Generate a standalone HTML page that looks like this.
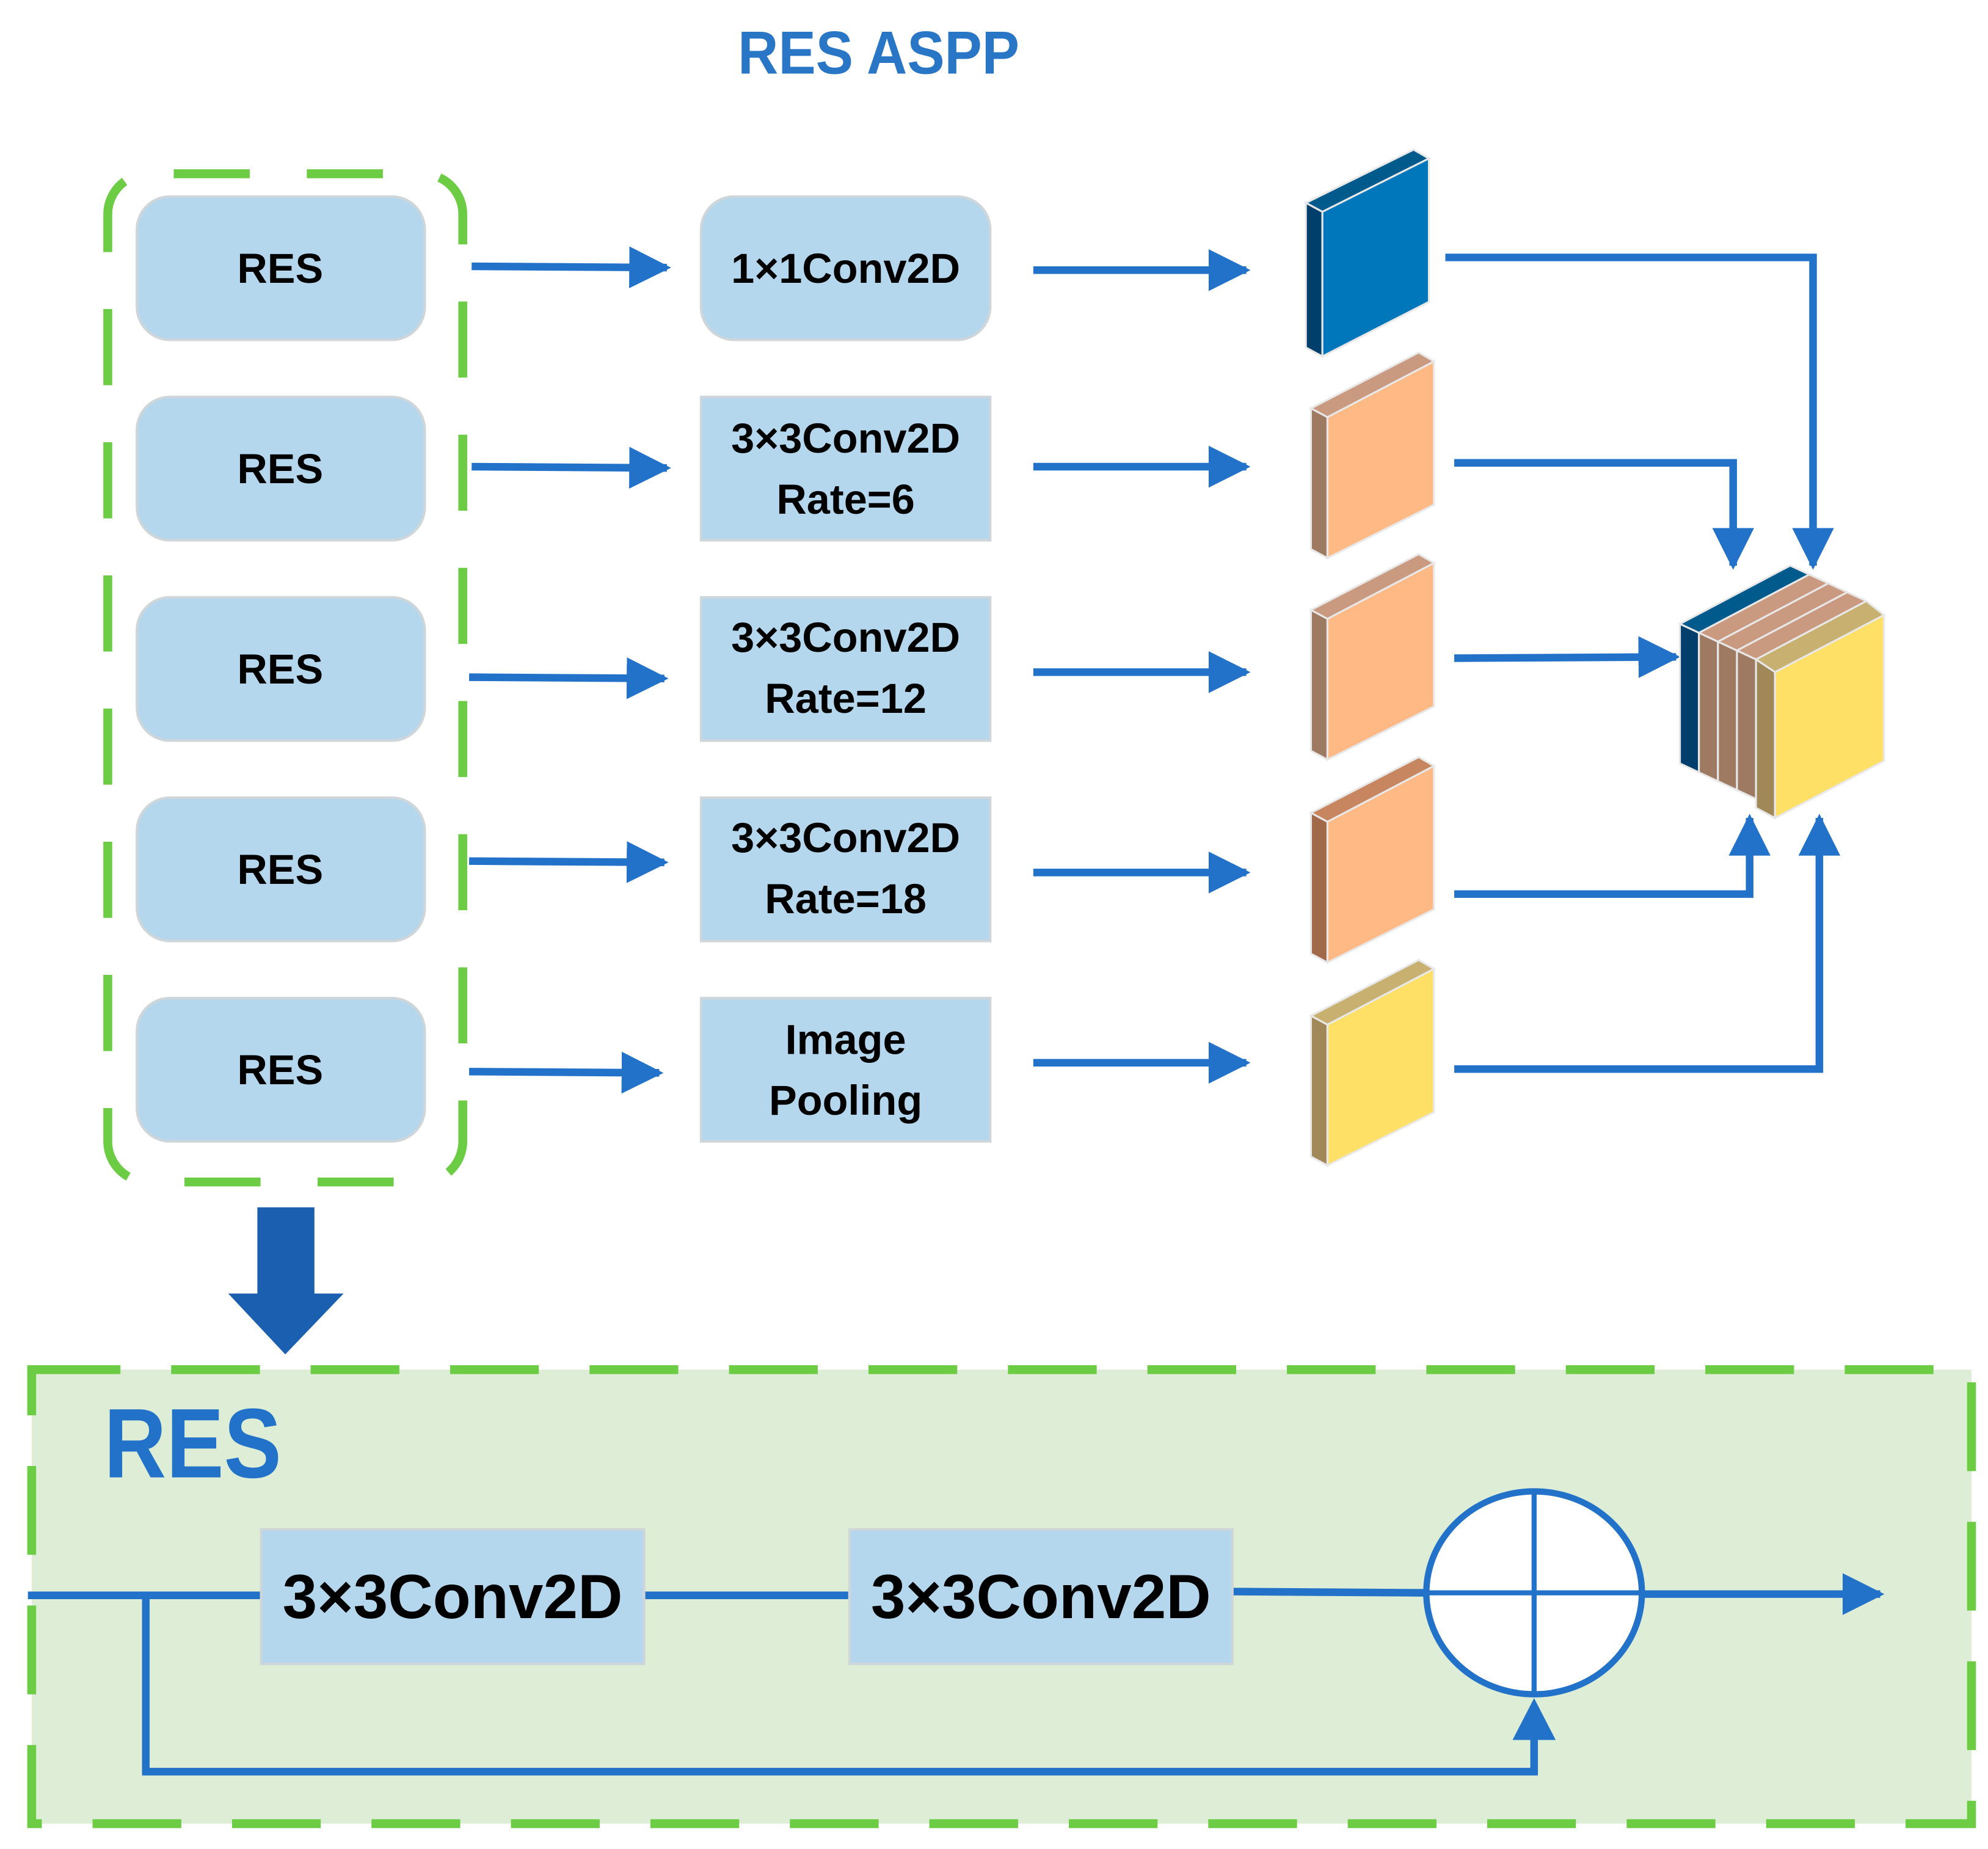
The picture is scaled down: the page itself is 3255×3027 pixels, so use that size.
<!DOCTYPE html>
<html><head><meta charset="utf-8"><style>
html,body{margin:0;padding:0;background:#fff;}
svg{display:block;}
text{font-family:"Liberation Sans",sans-serif;}
</style></head><body>
<svg width="3255" height="3027" viewBox="0 0 1568 1458" preserveAspectRatio="none" xmlns="http://www.w3.org/2000/svg">
<defs>
<marker id="ah" viewBox="0 0 10 10" refX="9" refY="5" markerWidth="5.5" markerHeight="6.5" orient="auto" markerUnits="strokeWidth">
<path d="M0,0 L10,5 L0,10 Z" fill="#2372c9"/></marker>
</defs>
<text x="693" y="58" text-anchor="middle" font-size="48" font-weight="bold" fill="#2a76c6" textLength="222" lengthAdjust="spacingAndGlyphs">RES  ASPP</text>

<rect x="85" y="137" width="280" height="795" rx="32" fill="none" stroke="#6ccc44" stroke-width="7" stroke-dasharray="60,45" stroke-dashoffset="-20"/>

<g fill="#b4d7ee" stroke="#cfd6da" stroke-width="2">
<rect x="108" y="155" width="227" height="113" rx="26"/>
<rect x="108" y="313" width="227" height="113" rx="26"/>
<rect x="108" y="471" width="227" height="113" rx="26"/>
<rect x="108" y="629" width="227" height="113" rx="26"/>
<rect x="108" y="787" width="227" height="113" rx="26"/>
<rect x="553" y="155" width="228" height="113" rx="26"/>
<rect x="553" y="313" width="228" height="113"/>
<rect x="553" y="471" width="228" height="113"/>
<rect x="553" y="629" width="228" height="113"/>
<rect x="553" y="787" width="228" height="113"/>
</g>
<g font-size="33" font-weight="bold" fill="#000" text-anchor="middle">
<text x="221" y="223">RES</text><text x="221" y="381">RES</text><text x="221" y="539">RES</text><text x="221" y="697">RES</text><text x="221" y="855">RES</text>
<text x="667" y="223">1×1Conv2D</text>
<text x="667" y="357">3×3Conv2D</text><text x="667" y="405">Rate=6</text>
<text x="667" y="514">3×3Conv2D</text><text x="667" y="562">Rate=12</text>
<text x="667" y="672">3×3Conv2D</text><text x="667" y="720">Rate=18</text>
<text x="667" y="831">Image</text><text x="667" y="879">Pooling</text>
</g>

<g stroke="#2372c9" stroke-width="6" fill="none" marker-end="url(#ah)">
<line x1="372" y1="210" x2="526" y2="211"/>
<line x1="372" y1="368" x2="526" y2="369"/>
<line x1="370" y1="534" x2="524" y2="535"/>
<line x1="370" y1="679" x2="524" y2="680"/>
<line x1="370" y1="845" x2="520" y2="846"/>
<line x1="815" y1="213" x2="983" y2="213"/>
<line x1="815" y1="368" x2="983" y2="368"/>
<line x1="815" y1="530" x2="983" y2="530"/>
<line x1="815" y1="688" x2="983" y2="688"/>
<line x1="815" y1="838" x2="983" y2="838"/>
<polyline points="1140,203 1430,203 1430,446"/>
<polyline points="1147,365 1367,365 1367,446"/>
<polyline points="1147,519 1322,518"/>
<polyline points="1147,705 1380,705 1380,645"/>
<polyline points="1147,843 1435,843 1435,645"/>
</g>

<g stroke="#e8e8e8" stroke-width="1.5">
<polygon points="1030,160 1115,118 1127,125 1043,167" fill="#005a8c"/>
<polygon points="1030,160 1043,167 1043,281 1030,274" fill="#003f6b"/>
<polygon points="1043,167 1127,125 1127,238 1043,281" fill="#0077bb"/>

<polygon points="1034,322 1119,278 1131,285 1047,329" fill="#c99a80"/>
<polygon points="1034,322 1047,329 1047,440 1034,433" fill="#9e7a62"/>
<polygon points="1047,329 1131,285 1131,398 1047,440" fill="#ffb985"/>

<polygon points="1034,481 1119,437 1131,444 1047,488" fill="#c99a80"/>
<polygon points="1034,481 1047,488 1047,599 1034,592" fill="#9e7a62"/>
<polygon points="1047,488 1131,444 1131,557 1047,599" fill="#ffb985"/>

<polygon points="1034,641 1119,597 1131,604 1047,648" fill="#c88660"/>
<polygon points="1034,641 1047,648 1047,759 1034,752" fill="#a0694a"/>
<polygon points="1047,648 1131,604 1131,717 1047,759" fill="#ffb985"/>

<polygon points="1034,801 1119,757 1131,764 1047,808" fill="#c8b070"/>
<polygon points="1034,801 1047,808 1047,919 1034,912" fill="#a08858"/>
<polygon points="1047,808 1131,764 1131,877 1047,919" fill="#ffe066"/>

<polygon points="1325,492 1412,446 1427,453 1340,499" fill="#005a8c"/>
<polygon points="1325,492 1340,499 1340,609 1325,602" fill="#003f6b"/>
<polygon points="1340,499 1427,453 1442,460 1355,506" fill="#c99a80"/>
<polygon points="1340,499 1355,506 1355,616 1340,609" fill="#9e7a62"/>
<polygon points="1355,506 1442,460 1457,467 1370,513" fill="#c99a80"/>
<polygon points="1355,506 1370,513 1370,623 1355,616" fill="#9e7a62"/>
<polygon points="1370,513 1457,467 1472,474 1385,520" fill="#c99a80"/>
<polygon points="1370,513 1385,520 1385,630 1370,623" fill="#9e7a62"/>
<polygon points="1385,520 1472,474 1486,485 1400,530" fill="#c8b070"/>
<polygon points="1385,520 1400,530 1400,645 1385,637" fill="#a08858"/>
<polygon points="1400,530 1486,485 1486,600 1400,645" fill="#ffe066"/>
</g>

<polygon points="203,952 248,952 248,1020 271,1020 225,1068 180,1020 203,1020" fill="#1a5fb0"/>

<rect x="25" y="1080" width="1530" height="358" fill="#deeed6"/>
<rect x="25" y="1080" width="1530" height="358" fill="none" stroke="#6ccc44" stroke-width="7" stroke-dasharray="70,40"/>
<text x="82" y="1165" font-size="78" font-weight="bold" fill="#2372c9" textLength="140" lengthAdjust="spacingAndGlyphs">RES</text>
<g stroke="#2372c9" stroke-width="6" fill="none">
<line x1="22" y1="1258" x2="206" y2="1258"/>
<line x1="508" y1="1258" x2="670" y2="1258"/>
<line x1="972" y1="1255" x2="1125" y2="1256"/>
<polyline points="115,1258 115,1397 1210,1397 1210,1370"/>
</g>
<g stroke="#2372c9" stroke-width="6" fill="none" marker-end="url(#ah)">
<line x1="1295" y1="1257" x2="1483" y2="1257"/>
</g>
<polygon points="1193,1372 1227,1372 1210,1339" fill="#2372c9"/>
<g fill="#b4d7ee" stroke="#cfd6da" stroke-width="2">
<rect x="206" y="1206" width="302" height="106"/>
<rect x="670" y="1206" width="302" height="106"/>
</g>
<g font-size="49" font-weight="bold" fill="#000" text-anchor="middle">
<text x="357" y="1276">3×3Conv2D</text>
<text x="821" y="1276">3×3Conv2D</text>
</g>
<ellipse cx="1210" cy="1256" rx="85" ry="80" fill="#fff" stroke="#2372c9" stroke-width="5"/>
<line x1="1125" y1="1256" x2="1295" y2="1256" stroke="#2372c9" stroke-width="4"/>
<line x1="1210" y1="1176" x2="1210" y2="1336" stroke="#2372c9" stroke-width="4"/>
</svg>
</body></html>
